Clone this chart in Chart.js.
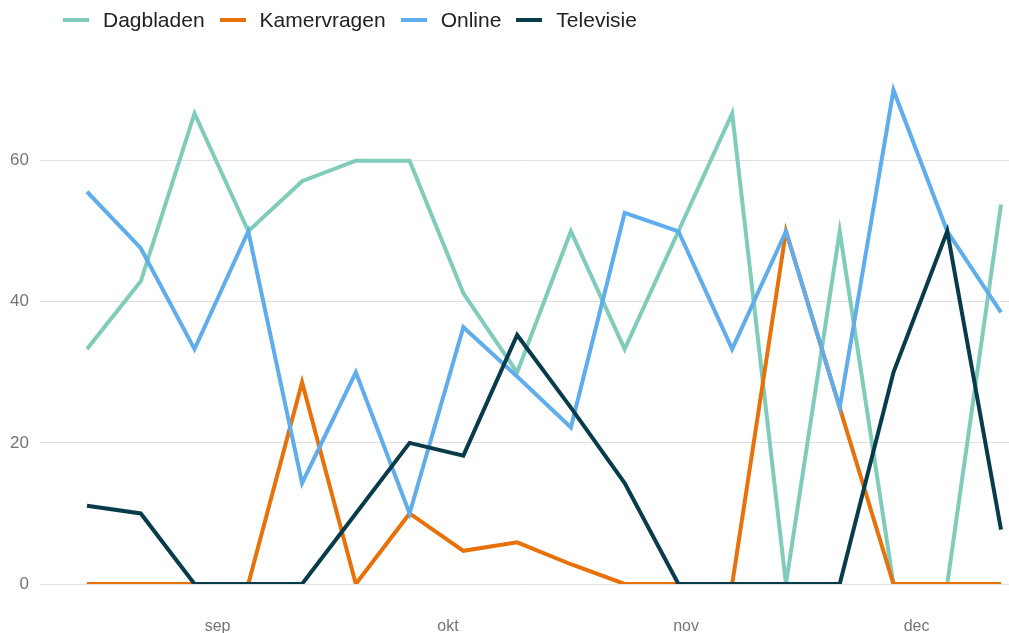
<!DOCTYPE html>
<html>
<head>
<meta charset="utf-8">
<script src="https://cdn.jsdelivr.net/npm/chart.js@4.4.1/dist/chart.umd.min.js"></script>
<style>
  body{ margin:0; background:#fff; }
  #wrap{ position:relative; width:1009px; height:633px; }
  #lijnChart{ display:block; }
  #legenda{ position:absolute; left:63px; top:8px; display:flex; align-items:center; font:21px "Liberation Sans", Arial, sans-serif; color:#222; line-height:24px; }
  #legenda .item{ display:flex; align-items:center; margin-right:15px; }
  #legenda .swatch{ width:26px; height:4px; margin-right:14px; }
</style>
</head>
<body>
<div id="wrap">
  <div id="legenda"></div>
  <canvas id="lijnChart"></canvas>
</div>
<script>
// weken (start van elke week) en maand-ticks
const weken = ['08-15','08-22','08-29','09-05','09-12','09-19','09-26','10-03','10-10','10-17','10-24','10-31','11-07','11-14','11-21','11-28','12-05','12-12'];
const maandTicks = ['09-01','10-01','11-01','12-01'];
const maandLabels = ['sep','okt','nov','dec'];
const yTicks = [0,20,40,60];

const seriesNamen = ['Dagbladen','Kamervragen','Online','Televisie'];
const seriesKleuren = ['#80CCBA','#E8710A','#5FADEC','#083C4A'];

const dagbladen   = [33.3, 42.9, 66.7, 50, 57.1, 60, 60, 41.2, 30, 50, 33.3, 50, 66.7, 0, 50, 0, 0, 53.8];
const kamervragen = [0, 0, 0, 0, 28.6, 0, 10, 4.7, 5.9, 2.8, 0, 0, 0, 50, 25, 0, 0, 0];
const online      = [55.6, 47.6, 33.3, 50, 14.3, 30, 10, 36.4, 29.4, 22.2, 52.6, 50, 33.3, 50, 25, 70, 50, 38.5];
const televisie   = [11.1, 10, 0, 0, 0, 10, 20, 18.2, 35.3, 25, 14.3, 0, 0, 0, 0, 30, 50, 7.7];

//=========================helpers============================
function dagNr(mmdd){
  const p = mmdd.split('-');
  const start = Date.UTC(2023, 7, 15);
  return Math.round((Date.UTC(2023, parseInt(p[0])-1, parseInt(p[1])) - start) / 86400000);
}

function maakPunten(waarden){
  return weken.map(function(w, i){ return { x: dagNr(w), y: waarden[i] }; });
}

function vulLegenda(){
  let html = '';
  seriesNamen.forEach(function(naam, i){
    html += '<div class="item"><span class="swatch" style="background:'+seriesKleuren[i]+'"></span><span>'+naam+'</span></div>';
  });
  document.getElementById('legenda').innerHTML = html;
}

function tekenGrafiek(){
  const reeksen = [dagbladen, kamervragen, online, televisie];
  const maandDagen = maandTicks.map(dagNr);
  const datasets = reeksen.map(function(waarden, i){
    return {
      label      : seriesNamen[i],
      data       : maakPunten(waarden),
      borderColor: seriesKleuren[i],
      backgroundColor: seriesKleuren[i],
      borderWidth: 4,
      pointRadius: 0,
      pointHoverRadius: 0,
      tension    : 0,
      fill       : false,
      order      : reeksen.length - 1 - i   // televisie bovenop
    };
  });

  const ctx = document.getElementById('lijnChart').getContext('2d');
  new Chart(ctx, {
    type: 'line',
    data: { datasets: datasets },
    options: {
      responsive: true,
      maintainAspectRatio: false,
      animation: false,
      layout: { padding: { top: 69, left: 10, right: 0, bottom: 0 } },
      plugins: {
        legend : { display: false },
        tooltip: { enabled: false }
      },
      scales: {
        x: {
          type: 'linear',
          min: -6.12,
          max: 120.04,
          grid  : { display: false, drawTicks: false },
          border: { display: false },
          afterBuildTicks: function(scale){
            scale.ticks = maandDagen.map(function(v){ return { value: v }; });
          },
          afterFit: function(scale){ scale.height = 49; },
          ticks: {
            autoSkip: false,
            maxRotation: 0,
            padding: 33,
            color: '#757575',
            font: { family: 'Liberation Sans', size: 16 },
            callback: function(value){
              const idx = maandDagen.indexOf(value);
              return idx >= 0 ? maandLabels[idx] : '';
            }
          }
        },
        y: {
          min: 0,
          max: 73,
          grid  : { color: '#e0e0e0', lineWidth: 1, drawTicks: false },
          border: { display: false },
          afterBuildTicks: function(scale){
            scale.ticks = yTicks.map(function(v){ return { value: v }; });
          },
          afterFit: function(scale){ scale.width = 30; },
          ticks: {
            padding: 11,
            color: '#757575',
            font: { family: 'Liberation Sans', size: 17 }
          }
        }
      }
    }
  });
}

vulLegenda();
tekenGrafiek();
</script>
</body>
</html>
